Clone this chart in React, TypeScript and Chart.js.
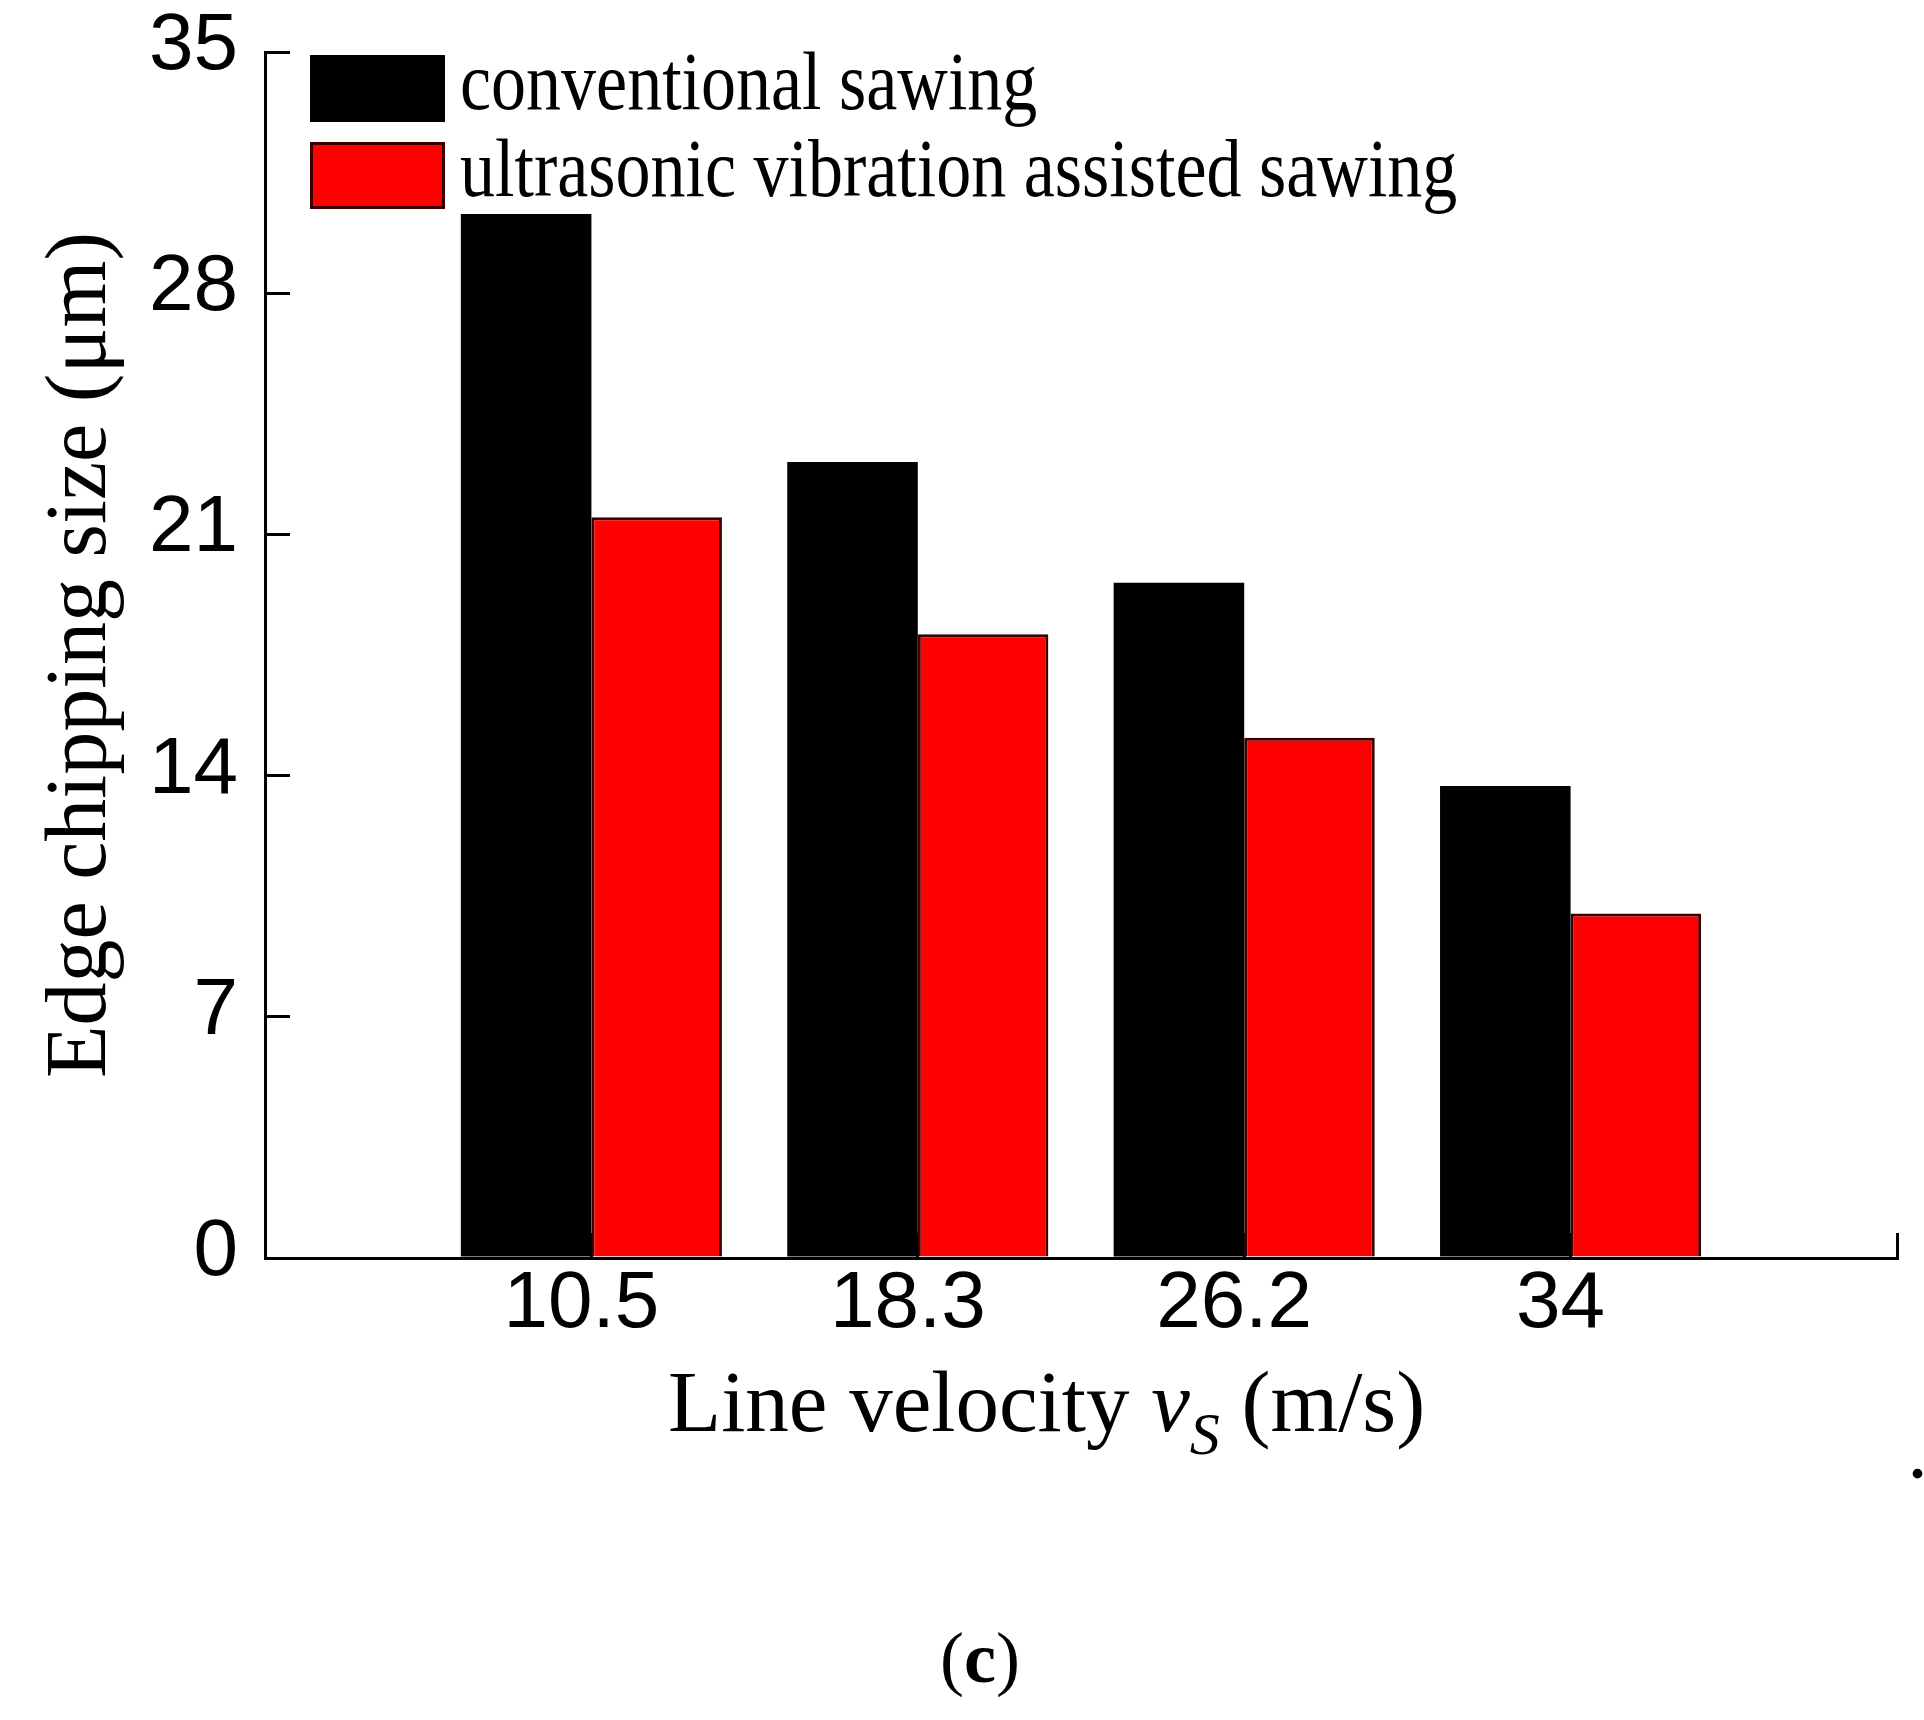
import React, { useEffect, useRef } from 'react';
import { Chart, registerables } from 'chart.js';

Chart.register(...registerables);

// ---- data ----
const categories = ['10.5', '18.3', '26.2', '34'];
const conventional = [30.3, 23.1, 19.6, 13.7];
const ultrasonic = [21.5, 18.1, 15.1, 10.0];
const yTicks = [0, 7, 14, 21, 28, 35];
const seriesNames = ['conventional sawing', 'ultrasonic vibration assisted sawing'];
const yTitle = 'Edge chipping size (μm)';

const W = 1924;
const H = 1720;

const SERIF = '"Liberation Serif", "Times New Roman", serif';
const SANS = '"Liberation Sans", Arial, sans-serif';

const legendPlugin = {
  id: 'customLegend',
  afterDraw(chart: any) {
    const ctx = chart.ctx as CanvasRenderingContext2D;
    const boxX = 310;
    const boxW = 135;
    const boxH = 67;
    const tops = [55, 142];
    ctx.save();
    chart.data.datasets.forEach((ds: any, i: number) => {
      const top = tops[i];
      ctx.fillStyle = ds.backgroundColor;
      ctx.fillRect(boxX, top, boxW, boxH);
      if (ds.borderWidth) {
        ctx.strokeStyle = ds.borderColor;
        ctx.lineWidth = 3;
        ctx.strokeRect(boxX + 1.5, top + 1.5, boxW - 3, boxH - 3);
      }
      ctx.save();
      ctx.translate(460, top + 54);
      ctx.scale(1, 1.17);
      ctx.font = `70px ${SERIF}`;
      ctx.fillStyle = '#000';
      ctx.textAlign = 'left';
      ctx.textBaseline = 'alphabetic';
      ctx.fillText(ds.label, 0, 0);
      ctx.restore();
    });
    ctx.restore();
  },
};

const textPlugin = {
  id: 'extraText',
  afterDraw(chart: any) {
    const ctx = chart.ctx as CanvasRenderingContext2D;
    ctx.save();
    ctx.fillStyle = '#000';
    ctx.textBaseline = 'alphabetic';
    ctx.textAlign = 'left';
    // x-axis title with italic v and subscript S
    let x = 668;
    const base = 1431;
    const segs: Array<[string, string, number]> = [
      ['Line velocity ', `87px ${SERIF}`, 0],
      ['v', `italic 87px ${SERIF}`, 0],
      ['S', `italic 60px ${SERIF}`, 23],
      [' (m/s)', `87px ${SERIF}`, 0],
    ];
    segs.forEach(([t, f, dy]) => {
      ctx.font = f;
      ctx.fillText(t, x, base + dy);
      x += ctx.measureText(t).width;
    });
    // panel label (c)
    const cb = 1682;
    ctx.font = `72px ${SERIF}`;
    const wp = ctx.measureText('(').width;
    ctx.font = `bold 72px ${SERIF}`;
    const wc = ctx.measureText('c').width;
    const total = wp * 2 + wc;
    let cx = 980 - total / 2;
    ctx.font = `72px ${SERIF}`;
    ctx.fillText('(', cx, cb);
    cx += wp;
    ctx.font = `bold 72px ${SERIF}`;
    ctx.fillText('c', cx, cb);
    cx += wc;
    ctx.font = `72px ${SERIF}`;
    ctx.fillText(')', cx, cb);
    // stray period at right edge
    ctx.font = `bold 60px ${SERIF}`;
    ctx.fillText('.', 1910, 1478);
    ctx.restore();
  },
};

export default function App() {
  const ref = useRef<HTMLCanvasElement | null>(null);

  useEffect(() => {
    document.body.style.margin = '0';
    const canvas = ref.current;
    if (!canvas) return;
    const labels = ['', ...categories, ''];
    const pad = (arr: number[]) => [null, ...arr, null];
    const chart = new Chart(canvas, {
      type: 'bar',
      data: {
        labels,
        datasets: [
          {
            label: seriesNames[0],
            data: pad(conventional),
            backgroundColor: '#000000',
            borderColor: '#000000',
            borderWidth: 0,
            categoryPercentage: 0.8,
            barPercentage: 1.0,
          },
          {
            label: seriesNames[1],
            data: pad(ultrasonic),
            backgroundColor: '#ff0000',
            borderColor: '#3a0000',
            borderWidth: 3,
            categoryPercentage: 0.8,
            barPercentage: 1.0,
          },
        ],
      },
      options: {
        responsive: false,
        animation: false,
        devicePixelRatio: 1,
        layout: { padding: { left: 0, top: 52, right: 27, bottom: 342 } },
        plugins: {
          legend: { display: false },
          tooltip: { enabled: false },
          title: { display: false },
        },
        scales: {
          x: {
            type: 'category',
            offset: false,
            grid: {
              offset: false,
              drawOnChartArea: false,
              drawTicks: true,
              tickLength: -25,
              color: '#000',
              lineWidth: 3,
            },
            border: { display: true, color: '#000', width: 3 },
            ticks: {
              font: { family: SANS, size: 80 },
              color: '#000',
              padding: 24,
              labelOffset: -10,
              maxRotation: 0,
              minRotation: 0,
              autoSkip: false,
            },
            afterFit: (s: any) => {
              s.height = 120;
              s.paddingLeft = 0;
              s.paddingRight = 0;
            },
          },
          y: {
            type: 'linear',
            min: 0,
            max: 35,
            afterBuildTicks: (s: any) => {
              s.ticks = yTicks.map((v) => ({ value: v }));
            },
            grid: {
              drawOnChartArea: false,
              drawTicks: true,
              tickLength: -25,
              color: '#000',
              lineWidth: 3,
            },
            border: { display: true, color: '#000', width: 3 },
            ticks: {
              font: { family: SANS, size: 80 },
              color: '#000',
              padding: 52,
              labelOffset: -5,
            },
            title: {
              display: true,
              text: yTitle,
              font: { family: SERIF, size: 86 },
              color: '#000',
              padding: { top: 31, bottom: 0 },
            },
            afterFit: (s: any) => {
              s.width = 265;
              s.paddingTop = 0;
              s.paddingBottom = 0;
            },
          },
        },
      },
      plugins: [legendPlugin, textPlugin],
    } as any);
    return () => chart.destroy();
  }, []);

  return (
    <div style={{ position: 'absolute', left: 0, top: 0, width: W, height: H, background: '#fff' }}>
      <canvas ref={ref} width={W} height={H} style={{ display: 'block', width: W, height: H }} />
    </div>
  );
}
